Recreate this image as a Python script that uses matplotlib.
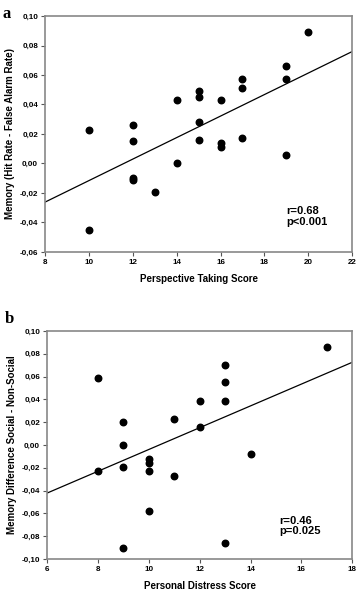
import numpy as np
import matplotlib
matplotlib.use('Agg')
from matplotlib import pyplot as plt
from matplotlib.ticker import FuncFormatter

# panel a - perspective taking vs memory
pt_score = [10, 10, 12, 12, 12, 12, 13, 14, 14, 15, 15, 15, 15,
            16, 16, 16, 17, 17, 17, 19, 19, 19, 20]
pt_memory = [0.023, -0.045, 0.026, 0.015, -0.010, -0.011, -0.019, 0.043, 0.000,
             0.049, 0.045, 0.028, 0.016, 0.043, 0.014, 0.011, 0.057, 0.051, 0.017,
             0.066, 0.057, 0.006, 0.089]

# panel b - personal distress vs memory difference
pd_score = [8, 8, 9, 9, 9, 9, 10, 10, 10, 10, 11, 11, 12, 12, 13, 13, 13, 13, 14, 17]
pd_memory = [0.059, -0.023, 0.020, 0.000, -0.019, -0.090, -0.012, -0.016, -0.023, -0.058,
             0.023, -0.027, 0.039, 0.016, 0.070, 0.055, 0.039, -0.086, -0.008, 0.086]

# fitted lines
fit_a_x = [8, 22]
fit_a_y = [-0.0262, 0.0759]
fit_b_x = [6, 18]
fit_b_y = [-0.0422, 0.0726]

stats_a = 'r=0.68\np<0.001'
stats_b = 'r=0.46\np=0.025'

plt.rcParams['font.family'] = ['Liberation Sans', 'DejaVu Sans']

comma = FuncFormatter(lambda v, p: ('%.2f' % v).replace('.', ','))


def panel(ax, x, y, fx, fy, xlim, ylim, xt, yt, xlabel, ylabel, stats, sx, sy):
    ax.scatter(x, y, s=22, color='black', zorder=3)
    ax.plot(fx, fy, color='black', lw=0.9)
    ax.set_xlim(*xlim)
    ax.set_ylim(*ylim)
    ax.set_xticks(xt)
    ax.set_yticks(yt)
    ax.yaxis.set_major_formatter(comma)
    for s in ax.spines.values():
        s.set_color('#888888')
        s.set_linewidth(1.2)
    ax.tick_params(direction='out', length=3, width=0.8, color='#555555',
                   labelsize=5.8, pad=2)
    for lab in ax.get_xticklabels() + ax.get_yticklabels():
        lab.set_fontweight('bold')
    ax.set_xlabel(xlabel, fontsize=7, fontweight='bold', labelpad=6)
    ax.set_ylabel(ylabel, fontsize=7, fontweight='bold', labelpad=3)
    ax.text(sx, sy, stats, transform=ax.transAxes, fontsize=8, fontweight='bold',
            va='top', ha='left', linespacing=1.1)


fig = plt.figure(figsize=(3.58, 5.95), dpi=100)
ax1 = fig.add_axes([0.1257, 0.5765, 0.858, 0.3966])
ax2 = fig.add_axes([0.1313, 0.0605, 0.853, 0.3832])

panel(ax1, pt_score, pt_memory, fit_a_x, fit_a_y, (8, 22), (-0.06, 0.10),
      np.arange(8, 23, 2), np.arange(-0.06, 0.101, 0.02),
      'Perspective Taking Score', 'Memory (Hit Rate - False Alarm Rate)',
      stats_a, 0.785, 0.195)
panel(ax2, pd_score, pd_memory, fit_b_x, fit_b_y, (6, 18), (-0.10, 0.10),
      np.arange(6, 19, 2), np.arange(-0.10, 0.101, 0.02),
      'Personal Distress Score', 'Memory Difference Social - Non-Social',
      stats_b, 0.762, 0.19)

fig.text(0.008, 0.99, 'a', family='Liberation Serif', fontweight='bold',
         fontsize=12, va='top')
fig.text(0.012, 0.478, 'b', family='Liberation Serif', fontweight='bold',
         fontsize=12, va='top')

fig.savefig('out.png', dpi=100)
